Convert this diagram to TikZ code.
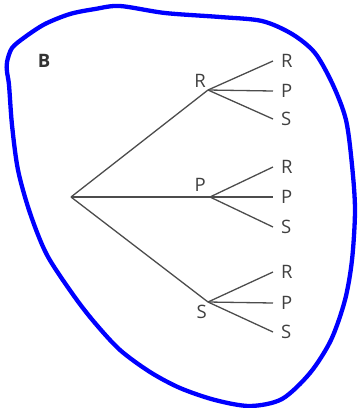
\documentclass[tikz,border=0pt]{standalone}
\usepackage{fontspec}
\setmainfont{Open Sans}
\usepackage{xcolor}
\usepackage{tikz}
\usetikzlibrary{positioning}

\begin{document}
\begin{tikzpicture}[
    x=1pt, y=-1pt,
    branch/.style={draw=black!70, line width=1.3pt},
    lbl/.style={inner sep=0pt, text=black!75, font=\fontsize{18.5}{18.5}\selectfont},
    leaf/.style={lbl, anchor=west, inner xsep=8pt},
    outline/.style={draw=blue, line width=4.3pt, line join=round}
]
\useasboundingbox (0,0) rectangle (358,408);

% hand-drawn ring
\draw[outline] plot[smooth cycle, tension=0.5] coordinates {
    (7,62) (12,48) (25,37) (45,24) (70,14) (95,9) (120,6) (165,13)
    (220,17) (262,21) (292,34) (315,53) (333,85) (346,120) (352,165) (355,210)
    (352,260) (345,300) (331,340) (310,373) (282,399) (250,406) (215,400)
    (180,388) (150,372) (120,350) (95,323) (74,296) (47,255)
    (30,213) (18,170) (12,125) (9,85) (7,72)};

\node[lbl, font=\fontsize{18.5}{18.5}\selectfont\bfseries, text=black!80] (title) at (44,61) {B};

% tree
\coordinate (root) at (71,197);
\coordinate (r) at (208,90);
\coordinate (p) at (210,197);
\coordinate (s) at (208,302);

\node[lbl, above left=2pt and 2pt of r] (rlab) {R};
\node[lbl, above left=5pt and 4pt of p] (plab) {P};
\node[lbl, below left=3pt and 1pt of s] (slab) {S};

\node[leaf] (rr) at (273,61) {R};
\node[leaf] (rp) at (273,91) {P};
\node[leaf] (rs) at (273,119) {S};
\node[leaf] (pr) at (273,167) {R};
\node[leaf] (pp) at (273,197) {P};
\node[leaf] (ps) at (273,227) {S};
\node[leaf] (sr) at (273,272) {R};
\node[leaf] (sp) at (273,303) {P};
\node[leaf] (ss) at (273,332) {S};

\draw[branch] (root) -- (r);
\draw[branch] (root) -- (p);
\draw[branch] (root) -- (s);

\draw[branch] (r) -- (rr.west);
\draw[branch] (r) -- (rp.west);
\draw[branch] (r) -- (rs.west);
\draw[branch] (p) -- (pr.west);
\draw[branch] (p) -- (pp.west);
\draw[branch] (p) -- (ps.west);
\draw[branch] (s) -- (sr.west);
\draw[branch] (s) -- (sp.west);
\draw[branch] (s) -- (ss.west);
\end{tikzpicture}
\end{document}
